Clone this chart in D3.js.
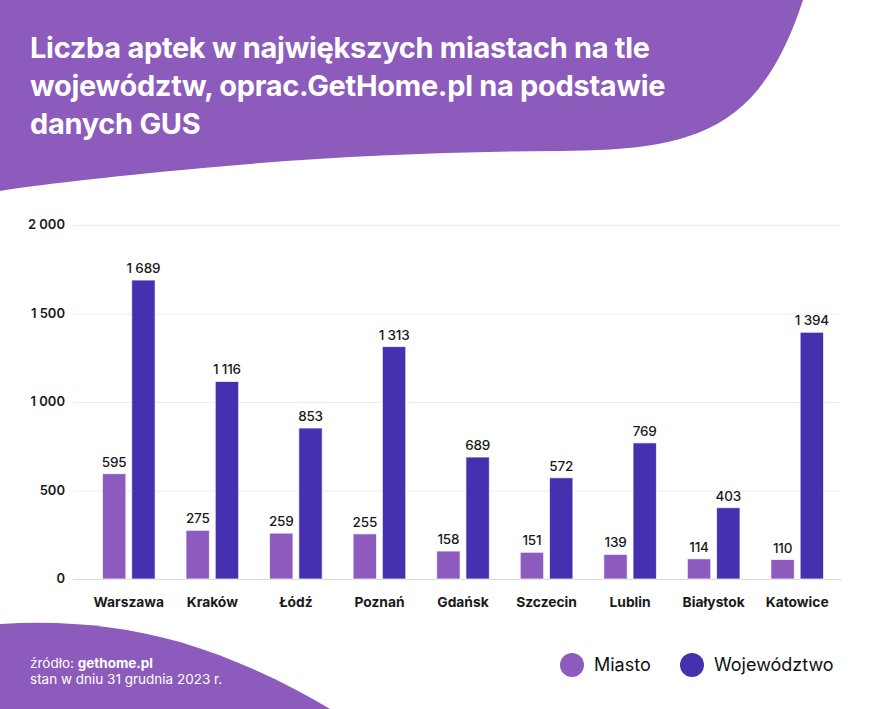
<!DOCTYPE html>
<html><head><meta charset="utf-8">
<script src="https://cdn.jsdelivr.net/npm/d3@7"></script>
<style>html,body{margin:0;padding:0;background:#fff;}svg{display:block;}</style>
</head><body>
<svg id="chart" width="872" height="709"></svg>
<script>
const categories = ["Warszawa","Kraków","Łódź","Poznań","Gdańsk","Szczecin","Lublin","Białystok","Katowice"];
const miasto = [595,275,259,255,158,151,139,114,110];
const wojewodztwo = [1689,1116,853,1313,689,572,769,403,1394];
const seriesNames = ["Miasto","Województwo"];
const yTicks = [0,500,1000,1500,2000];
const titleLines = ["Liczba aptek w największych miastach na tle","województw, oprac.GetHome.pl na podstawie","danych GUS"];

const colors = ["#8D5BBD","#4531AF"];
const bgPurple = "#8C5BBB";
const font = "Inter, 'Open Sans', sans-serif";

const svg = d3.select("#chart");

// decorative shapes
svg.append("path")
  .attr("d","M0,0 L803,0 C790,40 770,85 735,112 C690,147 630,150 560,151 C420,152 300,158 160,172 C80,180 30,186 0,191 Z")
  .attr("fill",bgPurple);
svg.append("path")
  .attr("d","M0,624 C60,620 120,625 180,642 C240,660 290,685 330,709 L0,709 Z")
  .attr("fill",bgPurple);

// title
const title = svg.append("g");
titleLines.forEach((t,i)=>{
  title.append("text").attr("x",30).attr("y",58+i*38)
    .attr("fill","#fff").attr("font-family",font).attr("font-weight",700)
    .attr("font-size",24).attr("letter-spacing","-0.3").text(t);
});
const w1 = title.select("text").node().getComputedTextLength();
const fs = 24*617/w1;
title.selectAll("text").attr("font-size",fs.toFixed(2));

const y = d3.scaleLinear().domain([0,2000]).range([579,225]);
const x0 = d3.scaleBand().domain(categories).range([87,839]).paddingInner(0.37).paddingOuter(0.185);
const x1 = d3.scaleBand().domain(seriesNames).range([0,x0.bandwidth()]).paddingInner(0.2);

const fmt = v => d3.format(",")(v).replace(/,/g," ");

// grid
svg.append("g").selectAll("line").data(yTicks).join("line")
  .attr("x1",73).attr("x2",841)
  .attr("y1",d=>y(d)+0.5).attr("y2",d=>y(d)+0.5)
  .attr("stroke",d=>d===0?"#d9d9d9":"#ededed").attr("stroke-width",1);

// y labels
svg.append("g").selectAll("text").data(yTicks).join("text")
  .attr("x",65).attr("y",d=>y(d)+4).attr("text-anchor","end")
  .attr("font-family",font).attr("font-size",13).attr("font-weight",600).attr("fill","#1a1a1a")
  .text(d=>fmt(d));

const data = categories.map((c,i)=>({c, vals:[miasto[i],wojewodztwo[i]]}));
const groups = svg.append("g").selectAll("g").data(data).join("g")
  .attr("transform",d=>`translate(${x0(d.c)},0)`);

groups.selectAll("rect").data(d=>d.vals.map((v,k)=>({v,k}))).join("rect")
  .attr("x",d=>x1(seriesNames[d.k])).attr("width",x1.bandwidth())
  .attr("y",d=>y(d.v)).attr("height",d=>y(0)-y(d.v))
  .attr("fill",d=>colors[d.k]).attr("stroke","rgba(255,255,255,0.7)").attr("stroke-width",1);

groups.selectAll("text.val").data(d=>d.vals.map((v,k)=>({v,k}))).join("text")
  .attr("class","val")
  .attr("x",d=>x1(seriesNames[d.k])+x1.bandwidth()/2).attr("y",d=>y(d.v)-7)
  .attr("text-anchor","middle").attr("font-family",font).attr("font-size",13.5).attr("font-weight",500)
  .attr("letter-spacing","-0.2")
  .attr("fill","#1a1a1a").text(d=>fmt(d.v));

// x labels
svg.append("g").selectAll("text").data(categories).join("text")
  .attr("x",d=>x0(d)+x0.bandwidth()/2).attr("y",607).attr("text-anchor","middle")
  .attr("font-family",font).attr("font-size",13.8).attr("font-weight",700).attr("fill","#1a1a1a")
  .text(d=>d);

// legend
const legX = [572,692];
const leg = svg.append("g");
seriesNames.forEach((s,i)=>{
  leg.append("circle").attr("cx",legX[i]).attr("cy",665).attr("r",12).attr("fill",colors[i]);
  leg.append("text").attr("x",legX[i]+22).attr("y",671).attr("font-family",font)
    .attr("font-size",18).attr("fill","#111").text(s);
});

// footer
const ft = svg.append("text").attr("x",30).attr("y",668).attr("font-family",font).attr("font-size",13.5).attr("fill","#fff");
ft.append("tspan").text("źródło: ");
ft.append("tspan").attr("font-weight",700).text("gethome.pl");
svg.append("text").attr("x",30).attr("y",684).attr("font-family",font).attr("font-size",13.5).attr("fill","#fff")
  .text("stan w dniu 31 grudnia 2023 r.");
</script>
</body></html>
